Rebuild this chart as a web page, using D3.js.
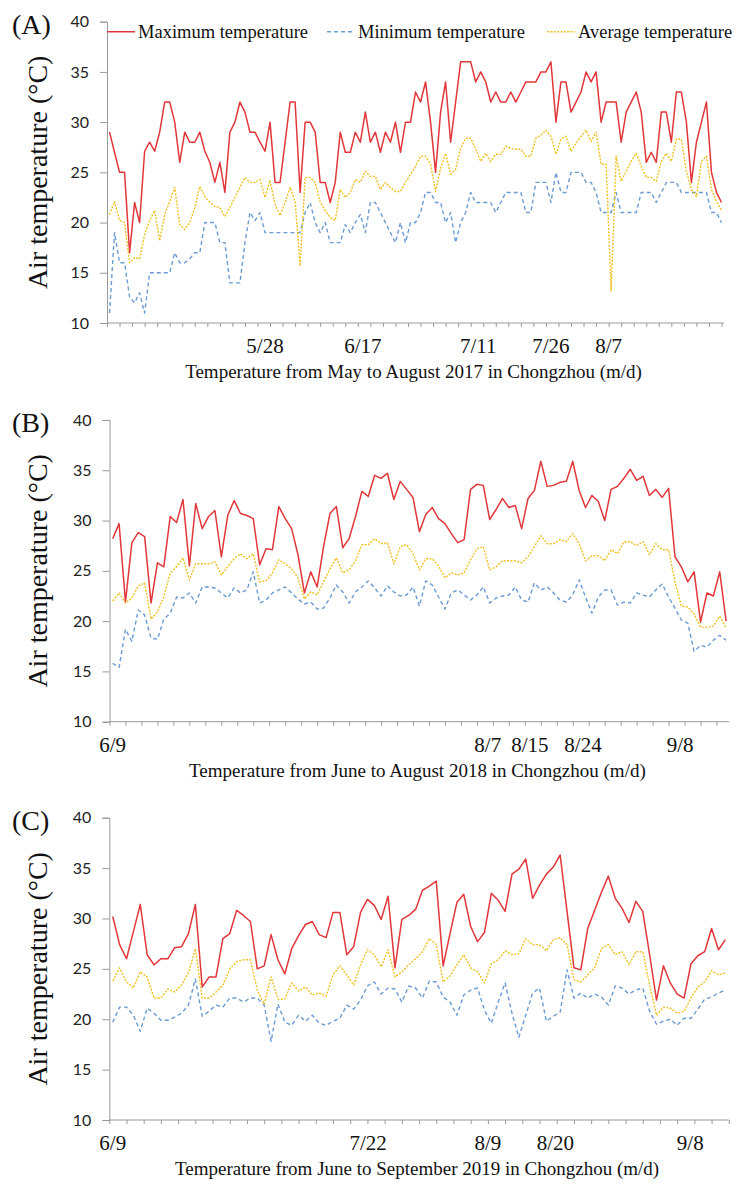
<!DOCTYPE html>
<html><head><meta charset="utf-8">
<script src="https://cdn.jsdelivr.net/npm/d3@7"></script>
<style>body{margin:0;background:#fff}</style>
</head><body>
<script>
// ---------- DATA ----------
const seriesNames = ["Maximum temperature", "Minimum temperature", "Average temperature"];
const yTickValues = [10, 15, 20, 25, 30, 35, 40];

// Panel A: May - August 2017
const aMax = [29,27,25,25,17,22,20,27.1,28,27.1,29,32,32,30,26,29,28,28,29,27.1,26,24,26,23,29,30,32,31,29,29,28,27.1,30,24,24,28,32,32,23,30,30,29,24,
 24,22,24,29,27,27,29,28,31,28,29,27,29,28,30,27,30,30,33,32,34,30,25,31,34,28,32,36,36,36,34,35,34,32,33,32,32,33,32,33,34,34,
 34,35,35,36,30,34,34,31,32,33,35,34,35,30,32,32,32,28,31,32,33,31,26,27,26,31,31,28,33,33,30,24,28,30,32,25,23,22];
const aMin = [11,19,16,16,12.6,12,13,11,15,15,15,15,15,17,16,16,16.4,17,17,20,20,20,18,18,14,14,14,18,21,20.2,21,19,19,19,19,19,19,19,19,21,22,20,19,
 20,18,18,18,19.8,19,20,20.8,19,22,22,21,20,19,18,20,18,20,20,21,23,23,22,22,20,21,18,20,21,23,22,22,22,22,21,22,23,23,23,23,21,21,
 24,24,24,22,25,23,23,25,25,25,24,24,23,21,21,21,23,21,21,21,21,23,23,23,22,23,24,24,24,23,23,23,23,23,23,21,21,20];
const aAvg = [20.8,22.1,20.2,20,16,16.5,16.4,18.8,20.2,21.2,18.2,20.8,22.1,23.5,19.8,19.3,20,21.5,23.6,22.6,22,21.6,21.5,20.6,21.5,22.5,23.5,24.5,24,24,24.3,22.5,24.2,21.8,20.7,22,23.5,22.1,15.7,24.5,24.5,24,22,
 21.2,20.5,20.2,23.3,22.5,23,24.3,24,25.1,24.6,24.6,23.3,24,23.5,23.1,23.1,24,24.8,25.6,26.6,26.6,25.8,23.1,25.4,26.9,24.8,25.3,27.4,28.4,28.4,27.3,26.1,26.9,26.1,26.8,26.8,27.6,27.4,27.3,27.3,26.6,26.6,
 28.4,28.7,29.2,28.6,26.8,28.3,28.6,27.1,27.9,28.6,29.2,28.1,29,25.8,25.8,13.2,26.6,24.1,25.1,26.1,26.9,25.6,24.5,24.5,24.1,26.1,26.9,26.1,28.3,28.3,25.1,23.3,22.6,26.1,26.6,23.3,22.1,21.2];
const aDateLabels = ["5/28", "6/17", "7/11", "7/26", "8/7"];
const aDateIndex = [31, 50.5, 73.5, 88, 99.5];
const aTitle = "Temperature from May to August 2017 in Chongzhou (m/d)";

// Panel B: June - August 2018
const bMax = [28.2,29.7,21.9,27.8,28.8,28.4,21.8,25.8,25.4,30.4,29.8,32.1,25.5,31.7,29.2,30.4,31,26.4,30.5,32,30.7,30.5,30.2,25.6,27.2,27.1,31.4,30.2,29.2,26.6,22.8,24.9,23.4,
 27.4,30.7,31.4,27.3,28.2,30.4,32.9,32.4,34.5,34.2,34.7,32.1,33.9,33.1,32.3,28.9,30.6,31.3,30.2,29.7,28.7,27.8,28.1,33.1,33.6,33.5,30.1,31.1,32.2,31.3,31.5,29.2,
 32.2,33,35.9,33.4,33.5,33.8,33.9,35.9,33,31.3,32.5,31.9,30,33.1,33.4,34.2,35.1,34,34.4,32.5,33.1,32.3,33.2,26.4,25.4,23.9,24.9,19.9,22.8,22.5,24.9,20];
const bMin = [15.8,15.4,19.2,18,21.1,20.6,18.3,18.2,20.2,20.8,22.4,22.3,22.8,21.8,23.4,23.4,23.3,22.8,22.3,23.3,22.8,23.1,24.9,21.8,22.1,22.8,23.1,23.4,22.8,22.2,21.7,21.9,21.2,
 21.3,22.3,23.6,22.9,21.8,22.9,23.4,24,23.3,22.5,23.5,22.9,22.5,22.6,23.4,21.5,24,23.6,22.4,21.2,22.8,23.1,22.6,22.1,22.6,23.4,21.8,22.3,22.5,22.6,23.4,22.1,
 21.9,23.8,23.1,23.4,22.8,22.1,21.9,22.6,24.1,22.4,20.8,22.4,23.1,23.1,21.6,21.9,21.8,22.8,22.6,22.4,23.1,23.7,22.4,21.3,20.1,19.8,17,17.6,17.4,18.1,18.6,18.1];
const bAvg = [22,22.8,21.8,22.3,23.5,23.8,20.2,20.9,22.4,24.8,25.4,26.3,24.1,25.7,25.7,25.7,25.9,24.6,25.4,26.2,26.7,26.2,26.7,23.9,24,24.8,26.1,25.7,25.2,24.3,22.2,22.9,22.6,
 23.9,25.2,26.3,24.8,25.1,26,27.6,27.6,28.2,27.7,27.8,25.7,27.4,27.6,26.7,25.1,26.2,26.2,25.5,24.3,24.8,24.6,24.8,26.1,27.2,27.4,25.1,25.4,26,26,26,25.8,
 26.4,27.4,28.5,27.7,27.7,28.1,27.9,28.7,27.7,26,26.5,26.5,26,27.1,26.7,27.9,27.9,27.5,27.9,26.6,27.7,27.1,27.1,23.9,21.5,21.4,20.7,19.4,19.4,19.5,20.5,19.3];
const bDateLabels = ["6/9", "8/7", "8/15", "8/24", "9/8"];
const bDateIndex = [0, 58.7, 65.3, 73.6, 88.8];
const bTitle = "Temperature from June to August 2018 in Chongzhou (m/d)";

// Panel C: June - September 2019
const cMax = [30.2,27.4,26,28.7,31.4,26.4,25.4,26,26,27.1,27.2,28.5,31.4,23.2,24.2,24.2,28,28.5,30.8,30.3,29.7,25,25.3,28.4,25.9,24.5,27,28.3,29.4,29.7,28.4,
 28.1,30.6,30.6,26.4,27.2,30.6,31.9,31.3,29.9,32.2,25.1,29.9,30.3,30.9,32.8,33.2,33.7,25.3,28.5,31.6,32.4,29.2,27.7,28.6,32.5,31.8,30.7,34.4,34.9,35.9,32,
 33.3,34.4,35.1,36.3,30.7,25.1,24.9,29,30.8,32.6,34.2,32,31,29.6,31.7,30.7,26.4,21.9,25.3,23.6,22.5,22.1,25.5,26.3,26.7,29,26.9,27.9];
const cMin = [19.7,21.2,21.2,20.4,18.8,21.1,20.6,19.9,19.9,20.2,20.6,21.4,24,20.3,20.8,21.4,21.2,22.1,22.1,21.7,22.1,22.1,21.4,17.8,21.5,19.7,19.4,20.4,19.8,20.4,19.6,
 19.4,19.8,20.1,21.4,21,21.9,23.3,23.7,22.5,23.1,23,21.7,23.3,23.1,22.1,23.8,23.7,22.2,21.7,20.4,22.4,22.9,23.1,20.9,19.6,21.7,23.6,20.6,18.2,20.4,22.6,
 23.1,19.8,20.3,20.7,24.9,22.1,22.6,22.1,22.5,22.2,21.4,23.3,23.1,22.5,22.9,23.1,20.8,19.5,19.8,20,19.4,20.1,20.1,21,22,22.2,22.6,22.9];
const cAvg = [23.8,25.1,23.7,23.1,24.7,24.2,22.1,22.1,23,22.7,23.4,24.6,27,22.1,22.1,22.7,23.4,25,25.7,25.9,25.9,22.9,21.5,24.2,22,22,23.6,22.8,23.2,22.4,22.6,
 22.3,24.4,25.3,24.4,23.4,25.4,26.9,26.4,25.2,26.9,24.2,24.7,25.4,26,26.7,28,27.4,23.7,24.3,25.4,26.4,25.1,24.7,23.6,25.5,25.9,26.8,26.4,26.5,28,27.4,
 27.4,26.8,27.9,28.1,27.4,23.9,23.7,24.4,25.1,27,27.4,26.4,26.7,25.4,26.7,26.7,23.4,20.4,21.2,21.1,20.6,20.8,22.1,23.2,23.7,24.8,24.4,24.6];
const cDateLabels = ["6/9", "7/22", "8/9", "8/20", "9/8"];
const cDateIndex = [0, 37.1, 54.5, 64.3, 83.9];
const cTitle = "Temperature from June to September 2019 in Chongzhou (m/d)";

// ---------- LAYOUT / STYLE ----------
const W = 741, H = 1184;
const colors = ["#E2373A", "#6A9BD3", "#F0C020"];
const dashes = [null, "4,3", "2,1.4"];
const widths = [1.5, 1.4, 1.4];
const serif = "'Liberation Serif','Times New Roman',serif";
const sans = "Lato,'Open Sans',sans-serif";
const axisColor = "#9a9a9a";

const panels = [
  {tag:"(A)", max:aMax, min:aMin, avg:aAvg, labels:aDateLabels, idx:aDateIndex, title:aTitle,
   x0:107, x1:724, yTop:21.7, yBot:323, legend:true},
  {tag:"(B)", max:bMax, min:bMin, avg:bAvg, labels:bDateLabels, idx:bDateIndex, title:bTitle,
   x0:109.5, x1:729.3, yTop:420, yBot:721.7, legend:false},
  {tag:"(C)", max:cMax, min:cMin, avg:cAvg, labels:cDateLabels, idx:cDateIndex, title:cTitle,
   x0:109.3, x1:728.8, yTop:817.7, yBot:1120, legend:false}
];

const svg = d3.select("body").append("svg").attr("width", W).attr("height", H)
  .style("font-family", serif);

panels.forEach(p => {
  const n = p.max.length;
  const x = d3.scaleLinear().domain([-0.5, n - 0.5]).range([p.x0, p.x1]);
  const y = d3.scaleLinear().domain([10, 40]).range([p.yBot, p.yTop]);
  const g = svg.append("g");

  // y axis
  const ya = g.append("g").attr("transform", `translate(${p.x0},0)`)
    .call(d3.axisLeft(y).tickValues(yTickValues).tickSize(7).tickPadding(11).tickFormat(d3.format("d")));
  ya.select(".domain").attr("stroke", axisColor);
  ya.selectAll(".tick line").attr("stroke", axisColor);
  ya.selectAll(".tick text").attr("font-family", sans).attr("font-size", 16).attr("fill", "#222");

  // x axis (tick marks only)
  const xt = d3.range(-0.5, n - 0.49, 2.5);
  const xa = g.append("g").attr("transform", `translate(0,${p.yBot})`)
    .call(d3.axisBottom(x).tickValues(xt).tickSize(4).tickFormat(""));
  xa.select(".domain").attr("stroke", axisColor).attr("d", `M${p.x0},0H${p.x1}`);
  xa.selectAll(".tick line").attr("stroke", axisColor);

  // date labels
  g.selectAll(".dl").data(p.labels).enter().append("text")
    .attr("x", (d, i) => x(p.idx[i])).attr("y", p.yBot + 30)
    .attr("text-anchor", "middle").attr("font-size", 21).attr("fill", "#111").text(d => d);

  // x title
  g.append("text").attr("x", (p.x0 + p.x1) / 2 - 2).attr("y", p.yBot + 55)
    .attr("text-anchor", "middle").attr("font-size", 19).attr("fill", "#111").text(p.title);

  // y title
  g.append("text").attr("transform", `translate(47,${(p.yTop + p.yBot) / 2}) rotate(-90)`)
    .attr("text-anchor", "middle").attr("font-size", 28).attr("fill", "#111").text("Air temperature (°C)");

  // panel tag
  g.append("text").attr("x", 12).attr("y", p.yTop + 12).attr("font-size", 28).attr("fill", "#111").text(p.tag);

  // lines
  const line = d3.line().x((d, i) => x(i)).y(d => y(d));
  [p.max, p.min, p.avg].forEach((s, k) => {
    g.append("path").datum(s).attr("d", line).attr("fill", "none")
      .attr("stroke", colors[k]).attr("stroke-width", widths[k])
      .attr("stroke-dasharray", dashes[k]).attr("stroke-linejoin", "round");
  });

  // legend
  if (p.legend) {
    const legX = [107, 327, 547];
    const legY = y(39);
    seriesNames.forEach((name, k) => {
      const lg = g.append("g").attr("transform", `translate(${legX[k]},${legY})`);
      lg.append("line").attr("x1", 0).attr("x2", 28).attr("y1", 0).attr("y2", 0)
        .attr("stroke", colors[k]).attr("stroke-width", widths[k]).attr("stroke-dasharray", dashes[k]);
      lg.append("text").attr("x", 31).attr("y", 6).attr("font-size", 18.5).attr("fill", "#111").text(name);
    });
  }
});
</script>
</body></html>
